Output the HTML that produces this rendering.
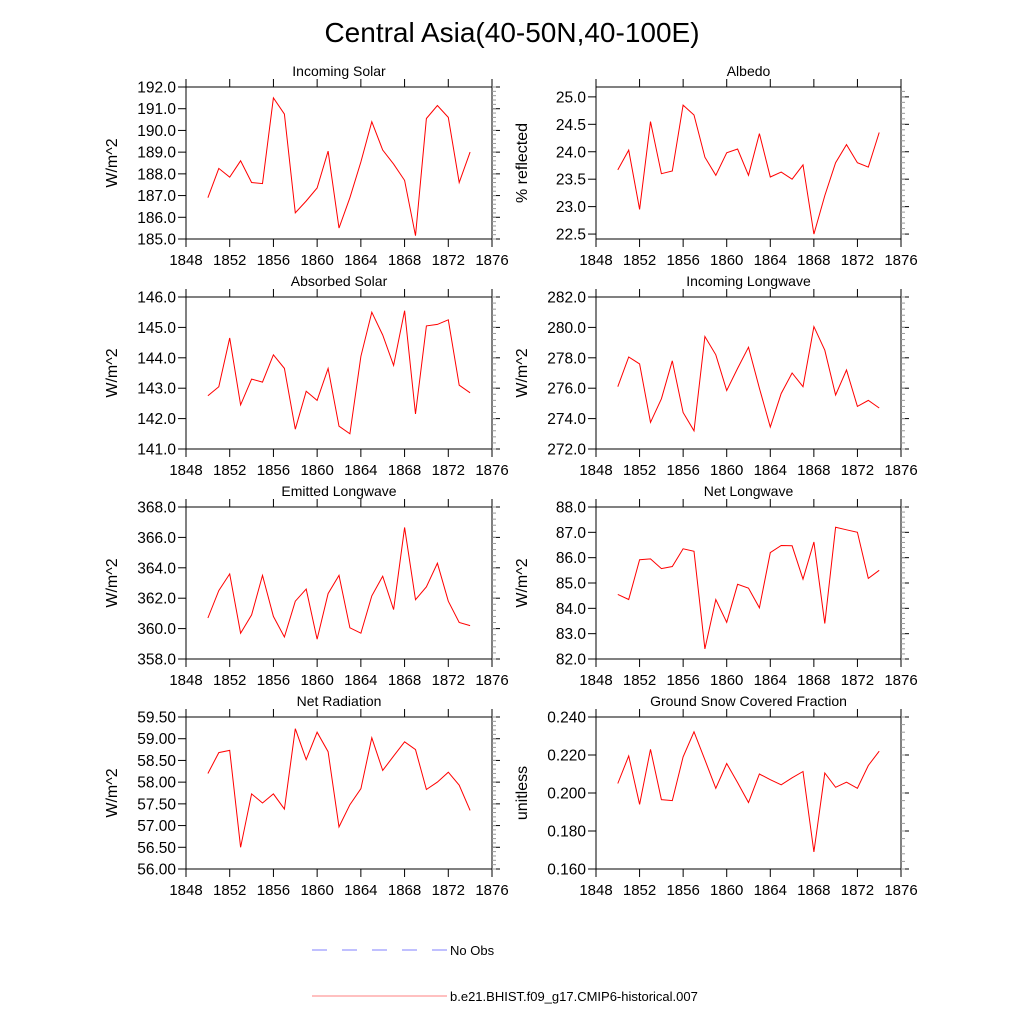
<!DOCTYPE html>
<html><head><meta charset="utf-8"><style>
body{margin:0;background:#fff}
svg text{font-family:"Liberation Sans",sans-serif;fill:#000}
</style></head><body>
<svg id="chart" width="1024" height="1024" viewBox="0 0 1024 1024" xmlns="http://www.w3.org/2000/svg">
<rect width="1024" height="1024" fill="#fff"/>
<text x="512" y="42" font-size="28" text-anchor="middle">Central Asia(40-50N,40-100E)</text>
<g>
<line x1="312" y1="950" x2="447" y2="950" stroke="#8080ff" stroke-width="1" stroke-dasharray="15,15"/>
<text x="450" y="955" font-size="13">No Obs</text>
<line x1="312" y1="996" x2="447" y2="996" stroke="#ff8080" stroke-width="1"/>
<text x="450" y="1001" font-size="13">b.e21.BHIST.f09_g17.CMIP6-historical.007</text>
</g>
</svg>
<script>
const years=[1850,1851,1852,1853,1854,1855,1856,1857,1858,1859,1860,1861,1862,1863,1864,1865,1866,1867,1868,1869,1870,1871,1872,1873,1874];
const xTicks=[1848,1852,1856,1860,1864,1868,1872,1876];
const incomingSolar=[186.9,188.25,187.85,188.6,187.6,187.55,191.5,190.75,186.2,186.75,187.35,189.05,185.5,186.9,188.55,190.4,189.1,188.45,187.7,185.15,190.55,191.15,190.6,187.6,189.0];
const albedo=[23.67,24.03,22.95,24.55,23.6,23.65,24.85,24.67,23.9,23.57,23.98,24.05,23.57,24.33,23.54,23.63,23.5,23.76,22.5,23.2,23.8,24.13,23.8,23.72,24.35];
const absorbedSolar=[142.75,143.05,144.65,142.45,143.3,143.2,144.1,143.65,141.65,142.9,142.6,143.65,141.75,141.5,144.05,145.5,144.75,143.75,145.55,142.15,145.05,145.1,145.25,143.1,142.85];
const incomingLW=[276.1,278.05,277.6,273.75,275.3,277.8,274.4,273.2,279.4,278.2,275.85,277.3,278.7,276.0,273.45,275.65,277.0,276.1,280.05,278.5,275.55,277.2,274.8,275.2,274.7];
const emittedLW=[360.7,362.5,363.6,359.7,360.9,363.5,360.8,359.45,361.8,362.6,359.3,362.3,363.5,360.05,359.7,362.15,363.45,361.25,366.65,361.9,362.75,364.3,361.8,360.4,360.2];
const netLW=[84.55,84.35,85.92,85.95,85.57,85.65,86.35,86.25,82.4,84.35,83.45,84.95,84.8,84.02,86.2,86.48,86.47,85.15,86.62,83.4,87.2,87.1,87.0,85.18,85.5];
const netRad=[58.2,58.68,58.73,56.5,57.73,57.52,57.73,57.38,59.23,58.52,59.15,58.7,56.97,57.48,57.85,59.02,58.27,58.6,58.93,58.75,57.83,58.0,58.23,57.93,57.35];
const snowFrac=[0.205,0.2195,0.194,0.223,0.1965,0.196,0.219,0.2322,0.2175,0.2025,0.2155,0.2055,0.195,0.21,0.207,0.2043,0.208,0.2113,0.169,0.2105,0.203,0.2057,0.2025,0.2145,0.222];
const panels=[
 {name:'incoming-solar',title:'Incoming Solar',ylab:'W/m^2',data:incomingSolar,ymin:185,ymax:192,step:1,minor:0.2,dec:1,col:0,row:0},
 {name:'albedo',title:'Albedo',ylab:'% reflected',data:albedo,ymin:22.41,ymax:25.18,t0:22.5,t1:25,step:0.5,minor:0.1,dec:1,col:1,row:0},
 {name:'absorbed-solar',title:'Absorbed Solar',ylab:'W/m^2',data:absorbedSolar,ymin:141,ymax:146,step:1,minor:0.2,dec:1,col:0,row:1},
 {name:'incoming-longwave',title:'Incoming Longwave',ylab:'W/m^2',data:incomingLW,ymin:272,ymax:282,step:2,minor:0.4,dec:1,col:1,row:1},
 {name:'emitted-longwave',title:'Emitted Longwave',ylab:'W/m^2',data:emittedLW,ymin:358,ymax:368,step:2,minor:0.4,dec:1,col:0,row:2},
 {name:'net-longwave',title:'Net Longwave',ylab:'W/m^2',data:netLW,ymin:82,ymax:88,step:1,minor:0.2,dec:1,col:1,row:2},
 {name:'net-radiation',title:'Net Radiation',ylab:'W/m^2',data:netRad,ymin:56,ymax:59.5,step:0.5,minor:0.1,dec:2,col:0,row:3},
 {name:'snow-fraction',title:'Ground Snow Covered Fraction',ylab:'unitless',data:snowFrac,ymin:0.16,ymax:0.24,step:0.02,minor:0.004,dec:3,col:1,row:3}
];
const NS='http://www.w3.org/2000/svg';
const svg=document.getElementById('chart');
function mk(tag,attrs,parent){const e=document.createElementNS(NS,tag);for(const k in attrs)e.setAttribute(k,attrs[k]);parent.appendChild(e);return e;}
panels.forEach(p=>{
 const L=p.col?596:186,R=p.col?901:492,T=[87,297,507,717][p.row],B=T+152;
 const xs=v=>L+(v-1848)/(1876-1848)*(R-L);
 const ys=v=>B-(v-p.ymin)/(p.ymax-p.ymin)*(B-T);
 const g=mk('g',{},svg);
 
 
 const box=mk('rect',{x:L,y:T,width:R-L,height:B-T,fill:'none',stroke:'#000','stroke-width':1},g);
 
 
 const tt=mk('text',{x:(L+R)/2,y:T-11,'font-size':14,'text-anchor':'middle'},g);tt.textContent=p.title;
 
 
 const yl=mk('text',{x:0,y:0,'font-size':16,'text-anchor':'middle',transform:`translate(${L-69},${(T+B)/2}) rotate(-90)`},g);yl.textContent=p.ylab;
 
 
 xTicks.forEach(t=>{const x=xs(t);
  mk('line',{x1:x,y1:B,x2:x,y2:B+8,stroke:'#000'},g);
  mk('line',{x1:x,y1:T,x2:x,y2:T-8,stroke:'#000'},g);
  const tx=mk('text',{x:x,y:B+26,'font-size':15,'text-anchor':'middle'},g);tx.textContent=t;
  
  
 });
 const t0=p.t0!==undefined?p.t0:p.ymin,t1=p.t1!==undefined?p.t1:p.ymax;
 const n=Math.round((t1-t0)/p.step);
 for(let i=0;i<=n;i++){const v=t0+i*p.step,y=ys(v);
  mk('line',{x1:L-8,y1:y,x2:L,y2:y,stroke:'#000'},g);
  mk('line',{x1:R,y1:y,x2:R+8,y2:y,stroke:'#000'},g);
  const ty=mk('text',{x:L-10,y:y+5.5,'font-size':15.5,'text-anchor':'end'},g);ty.textContent=v.toFixed(p.dec);
  
  
 }
 const m0=Math.ceil((p.ymin-1e-9)/p.minor);
 for(let k=m0;k*p.minor<=p.ymax+1e-9;k++){const y=ys(k*p.minor);
  mk('line',{x1:R,y1:y,x2:R+4,y2:y,stroke:'#999','stroke-width':1},g);}
 const pts=years.map((yr,i)=>xs(yr).toFixed(1)+','+ys(p.data[i]).toFixed(1)).join(' ');
 const pl=mk('polyline',{points:pts,fill:'none',stroke:'#ff0000','stroke-width':1},g);
 
 
});
</script>
</body></html>
